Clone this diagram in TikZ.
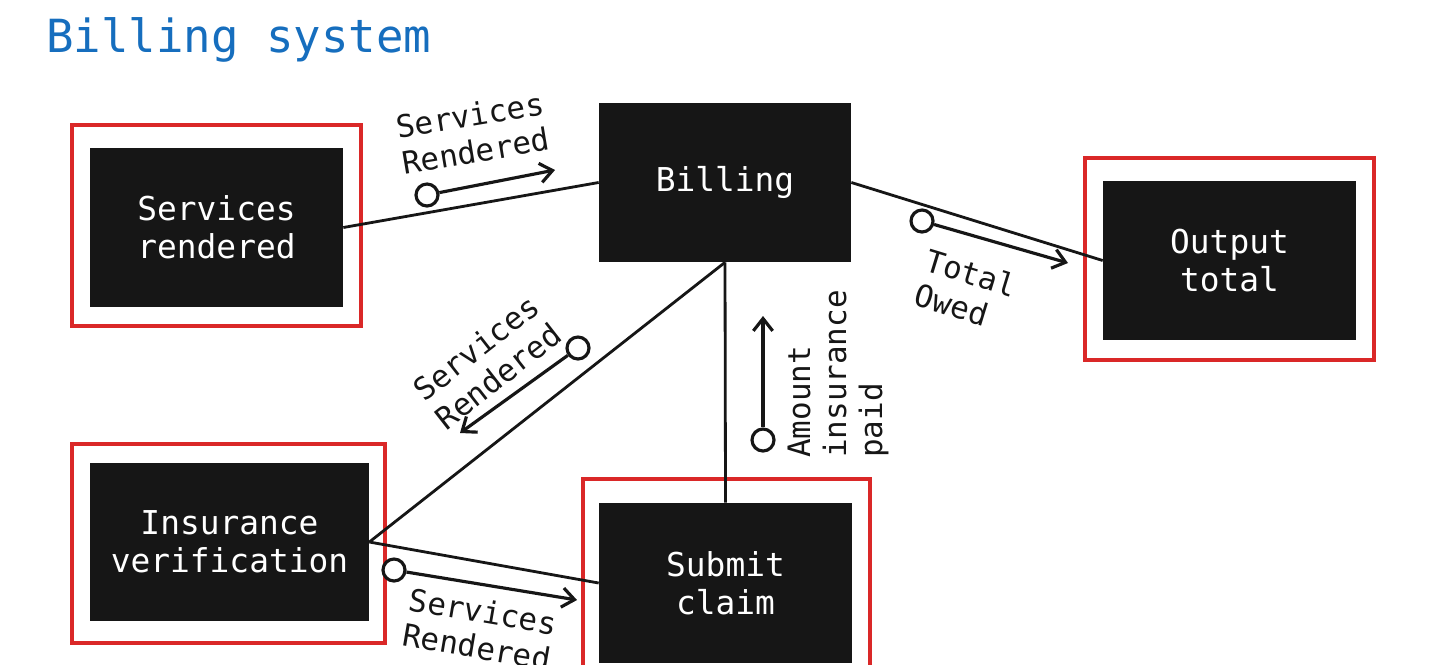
\documentclass[tikz,border=0pt]{standalone}
\usepackage{fontspec}
\setmonofont{DejaVu Sans Mono}
\usetikzlibrary{arrows.meta}
\definecolor{ibmblue}{RGB}{22,110,190}
\definecolor{ibmred}{RGB}{218,40,40}
\definecolor{boxblack}{RGB}{22,22,22}
\tikzset{
  proc/.style={fill=boxblack, text=white, font=\ttfamily\fontsize{18.7}{21.5}\selectfont,
    align=center, inner sep=0pt, minimum width=5.06cm, minimum height=3.18cm},
  frame/.style={draw=ibmred, line width=2.4pt, inner sep=0pt},
  conn/.style={draw=boxblack, line width=1.6pt},
  dot/.style={circle, draw=boxblack, line width=1.8pt, fill=white, minimum size=0.44cm, inner sep=0pt},
  flow/.style={draw=boxblack, line width=1.8pt, -{Straight Barb[length=7pt,width=11pt]}},
  lbl/.style={font=\ttfamily\fontsize{17.6}{20.5}\selectfont, align=left, text=boxblack, inner sep=0pt},
  titlestyle/.style={font=\ttfamily\fontsize{26}{30}\selectfont, text=ibmblue, inner sep=0pt}
}
\begin{document}
\begin{tikzpicture}[x=0.02cm, y=-0.02cm]
\useasboundingbox (0,0) rectangle (1429,664);
\clip (0,0) rectangle (1429,664);
\fill[white] (0,0) rectangle (1429,664);

\node[titlestyle, anchor=base west] (title) at (46,52) {Billing system};

% red frames
\node[frame, minimum width=5.78cm, minimum height=4.02cm] (srf) at (216.5,225.5) {};
\node[frame, minimum width=5.78cm, minimum height=4.04cm] (outf) at (1229.5,259) {};
\node[frame, minimum width=6.26cm, minimum height=3.98cm] (insf) at (228.5,543.5) {};
\node[frame, minimum width=5.74cm, minimum height=4.16cm] (subf) at (726.5,583) {};

% process boxes
\node[proc] (sr) at (216.5,227.5) {Services\\rendered};
\node[proc, minimum width=5.04cm] (bill) at (725,182.5) {Billing};
\node[proc] (out) at (1229.5,260.5) {Output\\total};
\node[proc, minimum width=5.58cm, minimum height=3.16cm] (ins) at (229.5,542) {Insurance\\verification};
\node[proc, minimum height=3.2cm] (sub) at (725.5,583) {Submit\\claim};

% connectors
\draw[conn] (sr.east) -- (bill.west);
\draw[conn] (bill.east) -- (out.west);
\draw[conn] (bill.south) -- (ins.east);
\draw[conn] (ins.east) -- (sub.west);
\draw[conn] (bill.south) -- (sub.north);

% flows
\node[dot] (c1) at (427,195) {};
\coordinate (a1) at (555,170);
\draw[flow] (c1) -- (a1);
\node[lbl, rotate=9.5] (l1) at (473,133) {Services\\Rendered};

\node[dot] (c2) at (922,221) {};
\coordinate (a2) at (1068,263);
\draw[flow] (c2) -- (a2);
\node[lbl, rotate=-17] (l2) at (966,290) {Total\\Owed};

\node[dot] (c3) at (578,348) {};
\coordinate (a3) at (460,433);
\draw[flow] (c3) -- (a3);
\node[lbl, rotate=38] (l3) at (487,362) {Services\\Rendered};

\node[dot] (c4) at (394,570) {};
\coordinate (a4) at (577,600);
\draw[flow] (c4) -- (a4);
\node[lbl, rotate=-9.7] (l4) at (480,629) {Services\\Rendered};

\node[dot] (c5) at (763,440) {};
\coordinate (a5) at (763,316);
\draw[flow] (c5) -- (a5);
\node[lbl, rotate=90] (l5) at (838,374) {Amount\\insurance\\paid};
\end{tikzpicture}
\end{document}
